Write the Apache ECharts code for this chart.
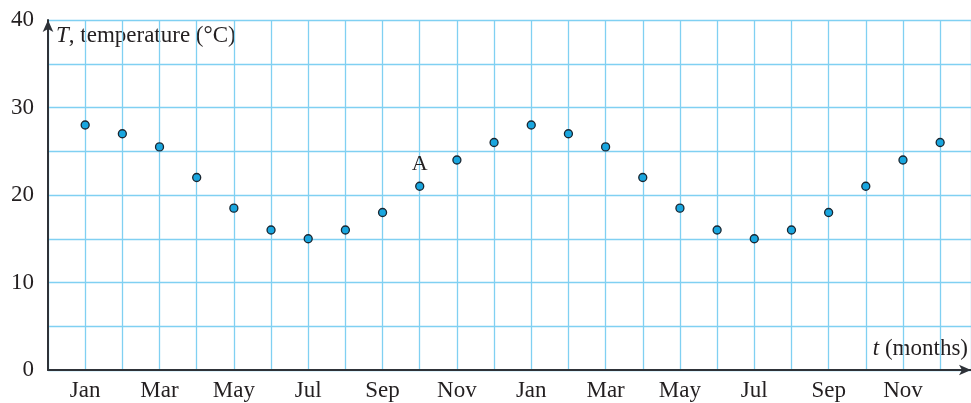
<!DOCTYPE html>
<html>
<head>
<meta charset="utf-8">
<script src="https://cdn.jsdelivr.net/npm/echarts@6/dist/echarts.min.js"></script>
<style>html,body{margin:0;padding:0;background:#fff;}#c{width:971px;height:403px;}</style>
</head>
<body>
<div id="c"></div>
<script>
const monthLabels = ['Jan','Feb','Mar','Apr','May','Jun','Jul','Aug','Sep','Oct','Nov','Dec',
                     'Jan','Feb','Mar','Apr','May','Jun','Jul','Aug','Sep','Oct','Nov','Dec'];
const temperatures = [28, 27, 25.5, 22, 18.5, 16, 15, 16, 18, 21, 24, 26,
                      28, 27, 25.5, 22, 18.5, 16, 15, 16, 18, 21, 24, 26];
const yTicks = [0, 10, 20, 30, 40];
const annotatedIndex = 9;
const annotationText = 'A';

const serif = '"Liberation Serif", "DejaVu Serif", serif';
const textColor = '#231f20';
const gridColor = '#80d0f2';
const axisColor = '#2e3238';

const data = temperatures.map((v, i) => {
  const item = { value: [i + 1, v] };
  if (i === annotatedIndex) {
    item.label = { show: true, formatter: annotationText, position: 'top', distance: 6,
      fontFamily: serif, fontSize: 22, color: textColor };
  }
  return item;
});

const chart = echarts.init(document.getElementById('c'), null, { renderer: 'canvas' });
chart.setOption({
  animation: false,
  grid: { left: 48, right: 0, top: 20, bottom: 33 },
  xAxis: {
    type: 'value', min: 0, max: 24.83, interval: 1,
    axisLine: { show: true, lineStyle: { color: axisColor, width: 2 },
      symbol: ['none', 'arrow'], symbolSize: [8, 12], symbolOffset: [0, 0] },
    axisTick: { show: false },
    axisLabel: {
      fontFamily: serif, fontSize: 23, color: textColor, margin: 9,
      showMinLabel: false, showMaxLabel: false,
      formatter: v => (Number.isInteger(v) && v >= 1 && v <= 24 && v % 2 === 1) ? monthLabels[v - 1] : ''
    },
    splitLine: { show: true, lineStyle: { color: gridColor, width: 1.3 } }
  },
  yAxis: {
    type: 'value', min: 0, max: 40, interval: 5,
    axisLine: { show: true, lineStyle: { color: axisColor, width: 2 },
      symbol: ['none', 'arrow'], symbolSize: [8, 12] },
    axisTick: { show: false },
    axisLabel: {
      fontFamily: serif, fontSize: 23, color: textColor, margin: 14,
      formatter: v => yTicks.includes(v) ? String(v) : ''
    },
    splitLine: { show: true, lineStyle: { color: gridColor, width: 1.3 } }
  },
  graphic: [
    { type: 'text', left: 56, top: 24, style: {
        text: '{i|T}, temperature (°C)', fill: textColor,
        font: '23px ' + serif,
        rich: { i: { fontStyle: 'italic', fontFamily: serif, fontSize: 23, fill: textColor } } } },
    { type: 'text', right: 3, top: 337, style: {
        text: '{i|t} (months)', fill: textColor,
        font: '23px ' + serif,
        rich: { i: { fontStyle: 'italic', fontFamily: serif, fontSize: 23, fill: textColor } } } }
  ],
  series: [{
    type: 'scatter',
    data: data,
    symbol: 'circle', symbolSize: 8,
    itemStyle: { color: '#19a6df', borderColor: '#1b2630', borderWidth: 1.3, opacity: 1 },
    z: 5
  }]
});
</script>
</body>
</html>
